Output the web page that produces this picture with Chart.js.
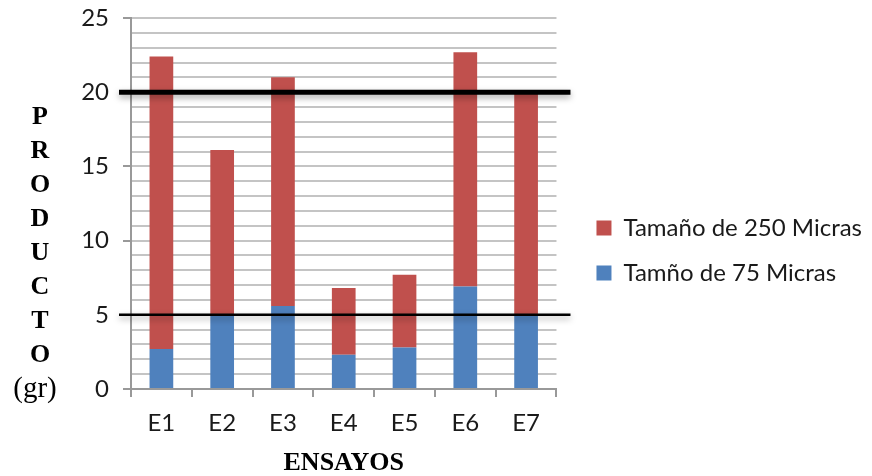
<!DOCTYPE html>
<html>
<head>
<meta charset="utf-8">
<script src="https://cdn.jsdelivr.net/npm/chart.js@4"></script>
<style>
  html, body { margin: 0; padding: 0; background: #fff; }
  #wrap { width: 872px; height: 476px; }
</style>
</head>
<body>
<div id="wrap"><canvas id="myChart" width="872" height="476"></canvas></div>
<script>
// Datos del gráfico
var ensayos = ['E1', 'E2', 'E3', 'E4', 'E5', 'E6', 'E7'];
var micras75 = [2.7, 5.0, 5.6, 2.3, 2.8, 6.9, 5.0];
var micras250 = [19.7, 11.1, 15.4, 4.5, 4.9, 15.8, 14.9];
var nombres = ['Tamño de 75 Micras', 'Tamaño de 250 Micras'];
var lineasRef = [20, 5];
var grosorRef = [5, 2.5];
var tituloY = ['P', 'R', 'O', 'D', 'U', 'C', 'T', 'O'];
var unidadY = '(gr)';

// Plugin: líneas negras de referencia y título vertical
var extras = {
  id: 'extras',
  afterDatasetsDraw: function(chart) {
    var ctx = chart.ctx;
    var y = chart.scales.y;
    var area = chart.chartArea;
    lineasRef.forEach(function(v, i) {
      var py = y.getPixelForValue(v);
      ctx.save();
      ctx.shadowColor = 'rgba(0,0,0,0.35)';
      ctx.shadowBlur = 6;
      ctx.shadowOffsetY = 3;
      ctx.strokeStyle = '#000';
      ctx.lineWidth = grosorRef[i];
      ctx.beginPath();
      ctx.moveTo(area.left - 12, py);
      ctx.lineTo(area.right + 14, py);
      ctx.stroke();
      ctx.restore();
    });
  },
  afterDraw: function(chart) {
    var ctx = chart.ctx;
    ctx.save();
    ctx.fillStyle = '#000';
    ctx.textAlign = 'center';
    ctx.textBaseline = 'middle';
    ctx.font = 'bold 26px "Liberation Serif"';
    tituloY.forEach(function(l, i) {
      ctx.fillText(l, 40, 117 + i * 34);
    });
    ctx.font = '29px "Liberation Serif"';
    ctx.fillText(unidadY, 35, 389);
    ctx.restore();
  }
};

var ctx = document.getElementById('myChart').getContext('2d');

var chart = new Chart(ctx, {
  type: 'bar',
  data: {
    labels: ensayos,
    datasets: [
      {
        label: nombres[0],
        data: micras75,
        backgroundColor: '#4F81BD',
        categoryPercentage: 1,
        barPercentage: 0.39
      },
      {
        label: nombres[1],
        data: micras250,
        backgroundColor: '#C0504D',
        categoryPercentage: 1,
        barPercentage: 0.39
      }
    ]
  },
  options: {
    responsive: false,
    animation: false,
    layout: { padding: { top: 0, right: 0, left: 0, bottom: 0 } },
    plugins: {
      tooltip: { enabled: false },
      legend: {
        position: 'right',
        reverse: true,
        maxWidth: 320,
        title: { display: true, text: ' ', padding: 0, font: { size: 25, lineHeight: 1 } },
        labels: {
          boxWidth: 15,
          boxHeight: 15,
          padding: 21,
          color: '#1a1a1a',
          font: { family: 'Lato', size: 24 }
        }
      }
    },
    scales: {
      x: {
        stacked: true,
        afterFit: function(s) { s.height = 87; },
        grid: {
          offset: true,
          drawOnChartArea: false,
          tickLength: 8,
          color: '#999',
          lineWidth: 2
        },
        border: { color: '#999', width: 2 },
        ticks: {
          padding: 12,
          color: '#1a1a1a',
          font: { family: 'Lato', size: 24 }
        },
        title: {
          display: true,
          text: 'ENSAYOS',
          color: '#000',
          padding: 0,
          font: { family: 'Liberation Serif', size: 26, weight: 'bold', lineHeight: 1 }
        }
      },
      y: {
        stacked: true,
        min: 0,
        max: 25,
        afterFit: function(s) { s.width = 131; s.paddingTop = 18; },
        grid: {
          color: '#c4c4c4',
          lineWidth: 2,
          tickLength: 8,
          tickColor: function(c) {
            return c.tick && c.tick.value % 5 === 0 ? '#999' : 'rgba(0,0,0,0)';
          }
        },
        border: { color: '#999', width: 2 },
        ticks: {
          stepSize: 1,
          maxTicksLimit: 30,
          autoSkip: false,
          padding: 14,
          color: '#1a1a1a',
          font: { family: 'Lato', size: 24 },
          callback: function(v) { return v % 5 === 0 ? v : ''; }
        }
      },
      // eje vacío para dejar el hueco antes de la leyenda
      y2: {
        position: 'right',
        afterFit: function(s) { s.width = 19; },
        grid: { drawOnChartArea: false, drawTicks: false },
        border: { display: false },
        ticks: { display: false }
      }
    }
  },
  plugins: [extras]
});
</script>
</body>
</html>
